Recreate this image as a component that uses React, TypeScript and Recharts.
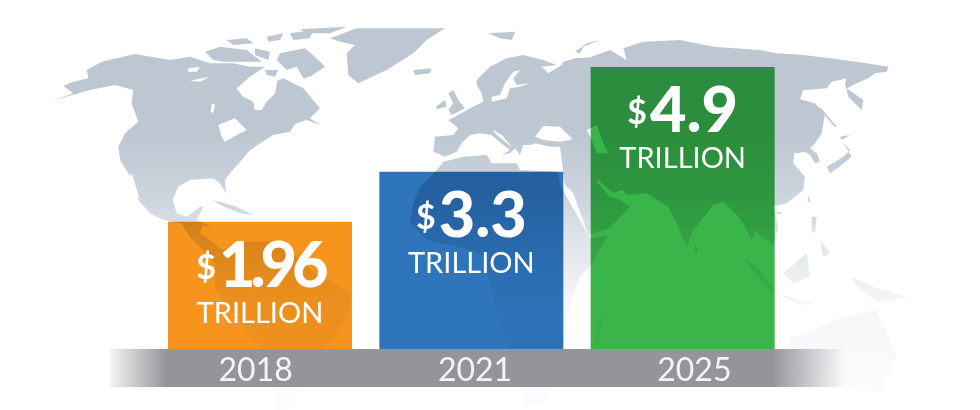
import React from 'react';
import { BarChart, Bar, XAxis, YAxis, Rectangle, LabelList } from 'recharts';

const years = ['2018', '2021', '2025'];
const amounts = ['1.96', '3.3', '4.9'];
// bar heights as drawn in the picture, which are not proportional to the printed amounts
const drawnHeights = [2.21, 3.08, 4.9];
const barColors = ['#F7941E', '#2E75BB', '#3AB54A'];
// the year labels sit a little off their bars in the picture
const yearOffsets = [-4, 4, 12];

const data = years.map((year, i) => ({ year, amount: amounts[i], height: drawnHeights[i], color: barColors[i] }));

const FONT = 'Lato, "Open Sans", sans-serif';

// Background map, traced by hand from 3x crops: [crop left, crop top, 'x,y x,y ...']
type Segment = [number, number, string];
const shape = (segments: Segment[]) =>
  'M' + segments.map(([ox, oy, pts]) =>
    pts.trim().split(/\s+/).map((p) => {
      const [x, y] = p.split(',').map(Number);
      return `${(ox + x / 3).toFixed(1)} ${(oy + y / 3).toFixed(1)}`;
    }).join('L')
  ).join('L') + 'Z';

const LAND: Segment[][] = [
  // North America
  [[40, 10, '35,272 100,250 70,228 100,215 145,205 140,180 185,155 285,132 390,150 450,140 510,160 580,160 630,170 675,170 630,200 590,235 610,260 640,275 645,300 665,300 680,270 705,250 705,215 730,205 790,235 840,295 810,325 840,345 800,330 740,350 770,335 750,365 700,375 660,400 625,425 610,445 570,490 555,510 558,550 540,520 520,505 450,510 415,530 398,570 410,610 440,620 480,590 490,590 470,630 515,650 420,640 370,630 330,610 295,570 265,490 240,450 235,410 255,370 295,335 275,280 280,240 225,225 150,240']],
  // South America
  [[100, 200, '240,65 310,70 300,100 370,150 420,125 510,125 590,170 640,215 755,280 745,340 700,420 640,470 600,560 560,640 530,640 510,500 490,450 420,370 345,270 345,190 270,110']],
  // Arctic islands
  [[190, 20, '270,100 345,85 375,110 405,140 360,170 340,175 320,140 290,150 260,120']],
  [[190, 20, '45,95 90,80 170,90 215,125 170,125 100,125 70,120']],
  [[190, 20, '110,60 170,55 190,70 130,75']],
  [[190, 20, '230,50 280,40 270,60 235,65']],
  [[190, 20, '300,40 370,30 360,55 310,60']],
  [[190, 20, '330,28 470,20 420,40 350,40']],
  [[190, 20, '195,85 240,95 235,120 195,105']],
  [[190, 20, '225,150 265,150 255,170 230,165']],
  [[40, 10, '870,85 950,55 1215,55 1160,90 1120,130 1040,180 955,220 925,195 920,130 945,105 900,95']],
  [[40, 10, '520,570 590,590 640,615 600,610 540,585']],
  // Iceland, Britain, Ireland, Svalbard, Novaya Zemlya
  [[420, 20, '-20,150 35,145 30,160 -15,165']],
  [[420, 20, '85,220 100,210 115,240 135,265 95,285 85,270 100,250']],
  [[420, 20, '48,260 75,240 80,260 50,268']],
  [[420, 20, '205,40 285,35 275,60 240,55']],
  [[420, 20, '465,95 500,70 540,60 490,80 480,100']],
  // Eurasia
  [
    [420, 20, '45,350 100,345 115,325 85,300 105,290 150,265 190,245 185,220 170,195 170,180 210,140 260,115 310,105 370,120 410,135 365,140 385,160 425,135 430,125 465,115 510,112'],
    [480, 10, '390,120 440,150 430,115 490,95 600,90 700,110'],
    [760, 40, '0,30 50,40 130,45 210,55 320,70 385,80 380,95 345,100 325,115 290,130 260,145 310,180 305,210 265,170 255,130 260,115 240,120 215,125 200,145 130,150 120,178 165,190 195,220 185,280 165,310 150,325 170,340 180,365 165,370 150,345 135,335 115,340 75,335 90,315 105,325 100,370 135,410 130,450 80,490 40,500 55,560 45,600'],
    [560, 160, '640,255 585,215 575,240 550,190 530,165 490,125 460,135 400,210 380,260 350,190 325,140 300,125 260,100 205,105 185,90 160,100 115,60 110,65 150,110 180,120 210,140 150,205 85,225 40,100 15,75'],
    [420, 20, '420,380 390,380 345,370 330,375 310,375 300,405 285,385 270,400 245,405 270,390 250,375 215,345 180,340 150,345 125,370 110,395 75,410 40,395'],
  ],
  // Africa
  [[370, 160, '200,30 220,5 280,-10 350,-15 365,10 440,10 450,30 565,35 570,75 660,235 715,225 660,320 630,350 610,400 590,470 570,640 530,730 470,740 440,640 400,520 375,430 355,350 335,285 300,270 240,255 170,240 120,190 130,130 150,80']],
  [[560, 160, '115,470 130,470 120,540 100,560']],
  // Asian islands and Australia
  [[560, 160, '405,255 415,265 410,285 403,275']],
  [[560, 160, '545,290 590,320 640,385 635,395 580,335']],
  [[760, 40, '240,290 270,285 245,300']],
  [[760, 40, '200,380 250,350 270,330 250,310 275,350 245,375 210,400']],
  [[760, 40, '180,200 230,260 225,262 185,215']],
  [[760, 40, '145,465 152,485 143,485']],
  [[760, 40, '50,515 68,515 55,525']],
  [[760, 40, '155,530 170,530 165,580 155,570']],
  [[480, 10, '910,790 980,730 990,800 940,820']],
  [[480, 10, '890,850 1000,880 960,885']],
  [[480, 10, '1020,690 1050,730 1030,740']],
  [[480, 10, '1110,800 1180,830 1280,860 1200,880 1140,840']],
  [[480, 10, '930,990 1090,920 1190,900 1250,1040 1200,1150 1050,1130 950,1130']],
];

const WATER: Segment[][] = [
  [[190, 20, '140,205 170,190 250,170 262,185 255,220 230,245 215,270 195,270 190,240 160,230']],
  [[40, 10, '445,175 480,170 470,185 445,185']],
  [[40, 10, '450,212 510,200 480,215']],
  [[40, 10, '515,280 525,285 520,310 512,305']],
  [[40, 10, '535,345 585,325 620,360 590,375 555,395 545,380']],
  [[40, 10, '275,490 300,570 285,555 265,500']],
  [[420, 20, '215,245 260,235 270,205 300,200 330,190 290,195 280,175 300,150 280,155 255,190 240,225 215,230']],
  [[420, 20, '345,350 370,318 420,320 458,358 420,365 370,360']],
  [[420, 20, '220,330 245,345 275,380 255,365 225,340']],
  [[480, 10, '320,360 350,345 370,400 385,430 350,430 335,390']],
];

const MapLayer = () => (
  <g>
    <defs>
      <linearGradient id="land" gradientUnits="userSpaceOnUse" x1="0" y1="130" x2="0" y2="400">
        <stop offset="0" stopColor="#BCC7D2" />
        <stop offset="0.26" stopColor="#CDD5DD" />
        <stop offset="0.44" stopColor="#E2E7EB" />
        <stop offset="0.63" stopColor="#F4F6F8" />
        <stop offset="1" stopColor="#FBFCFD" />
      </linearGradient>
      <linearGradient id="band" x1="0" y1="0" x2="1" y2="0">
        <stop offset="0" stopColor="#939598" stopOpacity="0.1" />
        <stop offset="0.077" stopColor="#939598" />
        <stop offset="0.9" stopColor="#939598" />
        <stop offset="1" stopColor="#939598" stopOpacity="0" />
      </linearGradient>
      <filter id="soft" x="-2%" y="-2%" width="104%" height="104%">
        <feGaussianBlur stdDeviation="0.7" />
      </filter>
    </defs>
    <g filter="url(#soft)">
      {LAND.map((segments, i) => <path key={'l' + i} d={shape(segments)} fill="url(#land)" />)}
      {WATER.map((segments, i) => <path key={'w' + i} d={shape(segments)} fill="#fff" />)}
    </g>
    <rect x={110} y={349} width={735} height={38} fill="url(#band)" />
  </g>
);

// multiply lets the land show through the bars
const BlendBar = (props: any) => (
  <Rectangle {...props} fill={props.payload.color} style={{ mixBlendMode: 'multiply' }} />
);

const AmountLabel = (props: any) => {
  const { x, y, width, value } = props;
  return (
    <g fill="#fff" fontFamily={FONT} textAnchor="middle">
      <text x={x + width / 2} y={y + 65}>
        <tspan fontSize={34} fontWeight={700} dy={-8}>$</tspan>
        <tspan fontSize={63} fontWeight={900} dy={8} dx={3} letterSpacing={value === '1.96' ? -5 : 0}>{value}</tspan>
      </text>
      <text x={x + width / 2} y={y + 101} fontSize={29}>TRILLION</text>
    </g>
  );
};

const YearTick = (props: any) => {
  const { x, y, index, payload } = props;
  return (
    <text x={x + yearOffsets[index]} y={y} dy={26} textAnchor="middle" fill="#F4F4F5" fontSize={32} fontFamily={FONT}>
      {payload.value}
    </text>
  );
};

export default function App() {
  return (
    <div style={{ position: 'absolute', left: 0, top: 0, width: 980, height: 410, background: '#fff', filter: 'blur(0.4px)' }}>
      <BarChart
        width={980}
        height={410}
        data={data}
        margin={{ top: 67, right: 192, bottom: 0, left: 154 }}
        barSize={184}
      >
        <MapLayer />
        <XAxis
          dataKey="year"
          axisLine={false}
          tickLine={false}
          height={61}
          tickMargin={0}
          tick={YearTick}
        />
        <YAxis hide domain={[0, 4.9]} />
        <Bar dataKey="height" shape={BlendBar} isAnimationActive={false}>
          <LabelList dataKey="amount" content={AmountLabel} />
        </Bar>
      </BarChart>
    </div>
  );
}
